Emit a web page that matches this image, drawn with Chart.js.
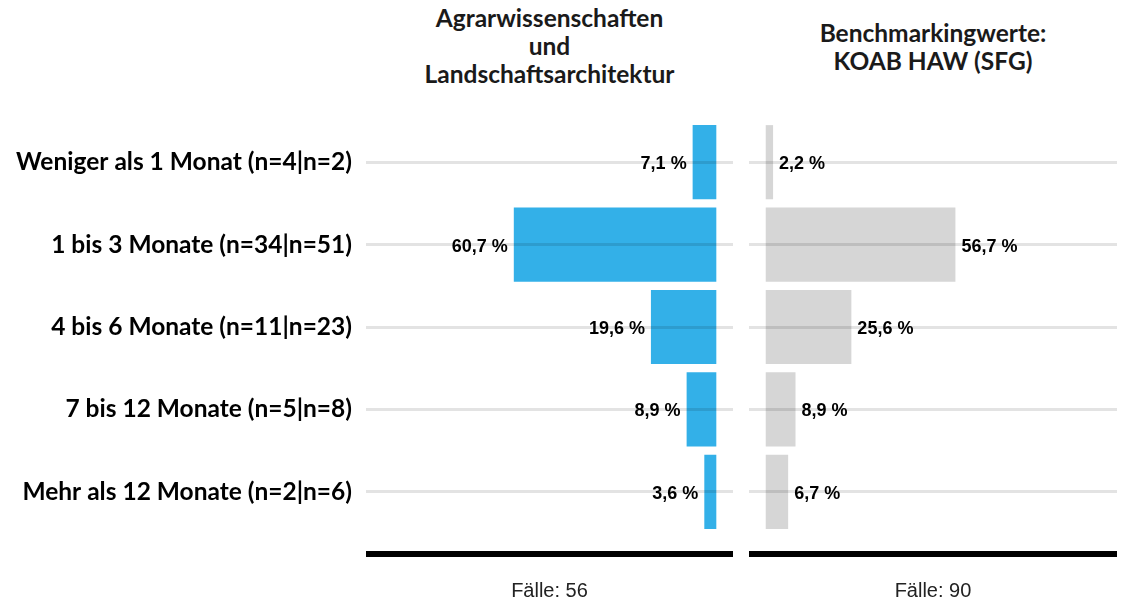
<!DOCTYPE html>
<html>
<head>
<meta charset="utf-8">
<script src="https://cdn.jsdelivr.net/npm/chart.js@4/dist/chart.umd.min.js"></script>
<style>
  body { margin: 0; background: #fff; width: 1123px; height: 602px; position: relative; overflow: hidden; }
  .title { position: absolute; font: bold 24.5px Lato, "Open Sans", sans-serif; line-height: 28px; text-align: center; color: #1a1a1a; }
  #titleL { left: 366px; width: 367px; top: 4px; }
  #titleR { left: 749px; width: 368px; top: 19px; }
  #chartL { position: absolute; left: 0; top: 0; }
  #chartR { position: absolute; left: 740px; top: 0; }
</style>
</head>
<body>
<div class="title" id="titleL"></div>
<div class="title" id="titleR"></div>
<canvas id="chartL" width="740" height="602"></canvas>
<canvas id="chartR" width="383" height="602"></canvas>
<script>
// Daten aus der Grafik
const categories = [
  'Weniger als 1 Monat (n=4|n=2)',
  '1 bis 3 Monate (n=34|n=51)',
  '4 bis 6 Monate (n=11|n=23)',
  '7 bis 12 Monate (n=5|n=8)',
  'Mehr als 12 Monate (n=2|n=6)'
];
const agrarValues = [7.1, 60.7, 19.6, 8.9, 3.6];
const koabValues = [2.2, 56.7, 25.6, 8.9, 6.7];
const agrarCases = 56;
const koabCases = 90;
const titleLeft = ['Agrarwissenschaften', 'und', 'Landschaftsarchitektur'];
const titleRight = ['Benchmarkingwerte:', 'KOAB HAW (SFG)'];

const blue = '#33b0e8';
const grey = '#d6d6d6';
const gridColor = 'rgba(0, 0, 0, 0.11)';
const labelFont = 'Lato, "Open Sans", sans-serif';

document.getElementById('titleL').innerHTML = titleLeft.join('<br>');
document.getElementById('titleR').innerHTML = titleRight.join('<br>');

// Prozentwerte an die Balken schreiben
const valueLabels = {
  id: 'valueLabels',
  afterDatasetsDraw(chart, args, opts) {
    const ctx = chart.ctx;
    const meta = chart.getDatasetMeta(0);
    const data = chart.data.datasets[0].data;
    ctx.save();
    ctx.font = 'bold 18px "Liberation Sans", Arial, sans-serif';
    ctx.fillStyle = '#000';
    ctx.textBaseline = 'middle';
    meta.data.forEach((bar, i) => {
      const text = data[i].toFixed(1).replace('.', ',') + ' %';
      if (opts.side === 'left') {
        ctx.textAlign = 'right';
        ctx.fillText(text, bar.x - 6, bar.y + 2);
      } else {
        ctx.textAlign = 'left';
        ctx.fillText(text, bar.x + 6, bar.y + 2);
      }
    });
    ctx.restore();
  }
};

// schwarze Linie unter dem Panel und Fallzahl
const panelFooter = {
  id: 'panelFooter',
  afterDraw(chart, args, opts) {
    const ctx = chart.ctx;
    const area = chart.chartArea;
    ctx.save();
    ctx.fillStyle = '#000';
    ctx.fillRect(area.left, area.bottom + 18, area.right - area.left, 6);
    ctx.font = '20px "Liberation Sans", Arial, sans-serif';
    ctx.fillStyle = '#222';
    ctx.textAlign = 'center';
    ctx.textBaseline = 'middle';
    ctx.fillText('Fälle: ' + opts.cases, (area.left + area.right) / 2, area.bottom + 58);
    ctx.restore();
  }
};

function makeChart(id, values, color, side, cases) {
  const isLeft = side === 'left';
  return new Chart(document.getElementById(id), {
    type: 'bar',
    data: {
      labels: categories,
      datasets: [{
        data: values,
        backgroundColor: color,
        barPercentage: 0.9,
        categoryPercentage: 1.0
      }]
    },
    options: {
      indexAxis: 'y',
      responsive: false,
      animation: false,
      layout: {
        padding: isLeft ? { top: 121, bottom: 69, left: 0, right: 7 } : { top: 121, bottom: 69, left: 9, right: 6 }
      },
      plugins: {
        legend: { display: false },
        tooltip: { enabled: false },
        valueLabels: { side: side },
        panelFooter: { cases: cases }
      },
      scales: {
        x: {
          type: 'linear',
          reverse: isLeft,
          min: -5,
          max: 105,
          display: false
        },
        y: {
          grid: { offset: false, color: gridColor, lineWidth: 3, drawTicks: false, z: 1 },
          border: { display: false },
          ticks: {
            display: isLeft,
            color: '#000',
            padding: 14,
            font: { family: labelFont, size: 24.5, weight: 'bold' }
          },
          afterFit: s => { s.width = isLeft ? 366 : 0; }
        }
      }
    },
    plugins: [valueLabels, panelFooter]
  });
}

makeChart('chartL', agrarValues, blue, 'left', agrarCases);
makeChart('chartR', koabValues, grey, 'right', koabCases);
</script>
</body>
</html>
